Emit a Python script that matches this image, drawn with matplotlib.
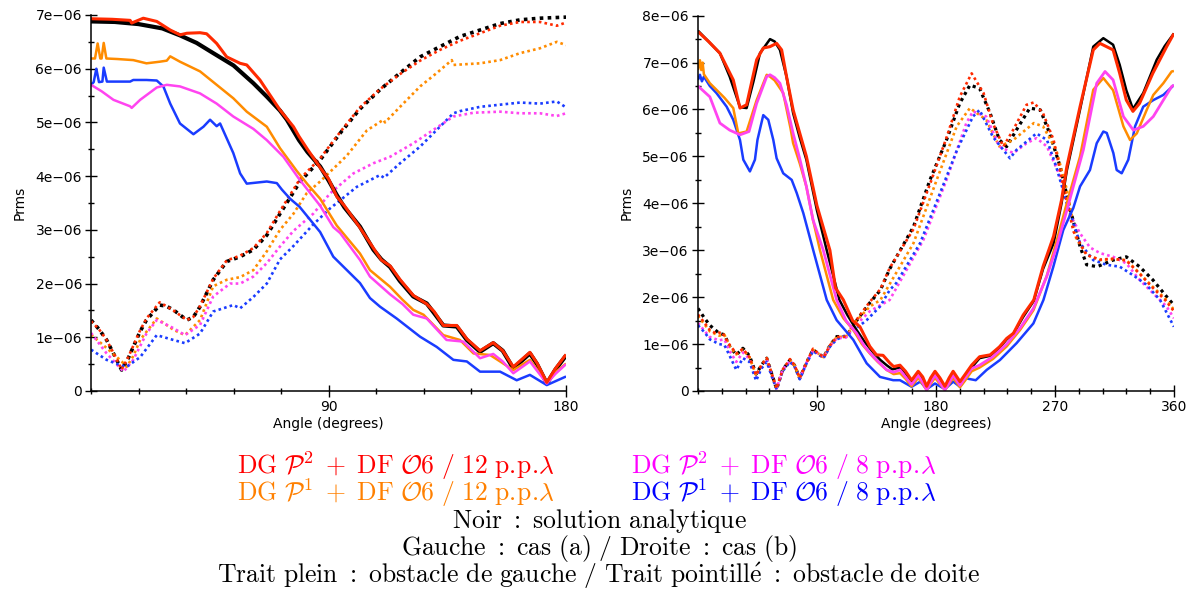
import matplotlib
matplotlib.use('Agg')
import numpy as np
import matplotlib.pyplot as plt
from matplotlib.ticker import FuncFormatter, MultipleLocator, FixedLocator

# ---- data (values in 1e-6) ----
# case (a), solid = left obstacle
a_black_ang = [0, 9, 18, 27, 33.7, 40, 46.3, 54, 61.5, 66.6, 71.6, 74.2, 78.8, 82, 86.8, 90, 93.1, 96, 101.9, 107, 110, 113.3, 117, 122.1, 127.2, 130, 133.5, 138.6, 142.4, 147.4, 152.4, 156, 160, 166.3, 169, 172.7, 176, 180]
a_black = [6.88, 6.87, 6.83, 6.75, 6.62, 6.48, 6.29, 6.06, 5.73, 5.48, 5.22, 5.05, 4.67, 4.45, 4.18, 3.92, 3.65, 3.42, 3.06, 2.63, 2.45, 2.31, 2.05, 1.76, 1.63, 1.45, 1.22, 1.20, 0.95, 0.73, 0.89, 0.75, 0.42, 0.70, 0.50, 0.14, 0.40, 0.66]
a_red_ang = [0, 8, 14.8, 15.4, 19.8, 24.9, 30, 33.7, 36.3, 41.3, 43.8, 47.6, 51.4, 56.5, 59, 64, 71.6, 76.7, 78.8, 82, 86.8, 90, 93.1, 96, 101.9, 107, 110, 113.3, 117, 122.1, 127.2, 130, 133.5, 138.6, 142.4, 147.4, 152.4, 156, 160, 166.3, 169, 172.7, 176, 180]
a_red = [6.93, 6.92, 6.90, 6.85, 6.94, 6.88, 6.72, 6.63, 6.66, 6.67, 6.65, 6.47, 6.22, 6.10, 6.07, 5.79, 5.23, 4.92, 4.74, 4.50, 4.16, 3.95, 3.62, 3.45, 3.04, 2.66, 2.44, 2.33, 2.08, 1.78, 1.62, 1.48, 1.22, 1.22, 0.97, 0.75, 0.90, 0.75, 0.45, 0.72, 0.52, 0.16, 0.42, 0.68]
a_orange_ang = [0, 1.5, 2.5, 3.5, 4, 4.8, 5.8, 10, 16, 21, 26, 28.7, 30, 33.7, 41.3, 47.6, 53.9, 59, 66.6, 71.6, 77.9, 82, 86.8, 93.1, 101.9, 105.7, 113.3, 118, 122.1, 126, 133.5, 139.8, 144.9, 151.2, 155, 160, 166.3, 172.7, 176, 180]
a_orange = [6.19, 6.19, 6.47, 6.19, 6.19, 6.48, 6.19, 6.18, 6.16, 6.10, 6.13, 6.15, 6.23, 6.13, 5.95, 5.70, 5.45, 5.20, 4.92, 4.52, 4.10, 3.85, 3.58, 3.08, 2.56, 2.25, 1.94, 1.70, 1.51, 1.42, 1.04, 0.95, 0.70, 0.67, 0.55, 0.39, 0.58, 0.16, 0.35, 0.51]
a_magenta_ang = [0, 4, 8.5, 14.8, 15.4, 18.6, 24.9, 28.7, 33.7, 41.3, 47.6, 53.9, 61.5, 66.6, 72.9, 78.8, 86.8, 91.8, 94.4, 101.9, 105.7, 113.3, 118, 122.1, 127.2, 134.7, 141, 147.4, 152.4, 156, 160, 166.3, 172.7, 176, 180]
a_magenta = [5.70, 5.58, 5.42, 5.30, 5.27, 5.42, 5.65, 5.70, 5.67, 5.54, 5.35, 5.11, 4.88, 4.67, 4.36, 3.95, 3.45, 3.05, 2.94, 2.44, 2.13, 1.80, 1.62, 1.42, 1.35, 0.95, 0.92, 0.61, 0.69, 0.55, 0.33, 0.55, 0.14, 0.32, 0.50]
a_blue_ang = [0, 1, 2, 3, 4.3, 4.8, 6, 7.2, 14.8, 16, 21, 24.9, 27.4, 30, 33.7, 38.8, 42.6, 45.1, 47.6, 48.9, 53.9, 56.5, 59, 66.6, 70.4, 72.3, 75.4, 79, 86.8, 91.8, 101.9, 105.7, 109.5, 115.8, 124.7, 131, 137.3, 142.4, 147.4, 155, 161.3, 166.3, 172.7, 180]
a_blue = [5.70, 5.75, 6.00, 5.75, 5.76, 6.02, 5.76, 5.76, 5.76, 5.79, 5.79, 5.78, 5.67, 5.35, 4.98, 4.78, 4.92, 5.05, 4.93, 4.98, 4.43, 4.05, 3.86, 3.90, 3.87, 3.75, 3.58, 3.43, 2.96, 2.50, 2.01, 1.73, 1.57, 1.35, 1.01, 0.82, 0.58, 0.55, 0.36, 0.36, 0.20, 0.30, 0.11, 0.27]

# case (a), dotted = right obstacle
a_black_d_ang = [0, 3, 5.9, 9, 11.6, 14, 16, 18.5, 21, 26, 28.5, 31.2, 36.3, 38.8, 41.3, 46.3, 51.4, 56.5, 61.5, 66.6, 71.6, 76.7, 79.2, 86.8, 94.4, 101.9, 109.5, 117.1, 124.7, 132.2, 139.8, 147.4, 155, 162.6, 170.1, 180]
a_black_d = [1.32, 1.15, 0.95, 0.65, 0.39, 0.60, 0.82, 1.10, 1.32, 1.60, 1.58, 1.51, 1.32, 1.38, 1.57, 2.07, 2.41, 2.50, 2.63, 2.90, 3.30, 3.70, 3.90, 4.30, 4.80, 5.25, 5.61, 5.92, 6.22, 6.41, 6.60, 6.72, 6.84, 6.91, 6.94, 6.96]
a_red_d_ang = [0, 3, 5.9, 9, 11.6, 14, 16, 18.5, 21, 26, 28.5, 31.2, 36.3, 38.8, 41.3, 46.3, 51.4, 56.5, 61.5, 66.6, 71.6, 76.7, 79.2, 86.8, 94.4, 101.9, 109.5, 117.1, 124.7, 132.2, 139.8, 147.4, 155, 162.6, 170.1, 176.5, 180]
a_red_d = [1.30, 1.15, 0.95, 0.66, 0.40, 0.62, 0.84, 1.12, 1.35, 1.65, 1.58, 1.50, 1.32, 1.38, 1.58, 2.09, 2.43, 2.52, 2.66, 2.94, 3.35, 3.75, 3.95, 4.33, 4.82, 5.28, 5.62, 5.90, 6.15, 6.35, 6.52, 6.66, 6.80, 6.87, 6.87, 6.80, 6.86]
a_orange_d_ang = [0, 5.9, 11.6, 13.5, 16, 18.6, 24.9, 28, 31.2, 35.6, 41.3, 46.3, 51.4, 56.5, 61.5, 66.6, 71.6, 76.7, 81.7, 86.8, 96.9, 104.5, 110.8, 111.4, 117.1, 124.7, 131, 136.7, 137.3, 147.4, 155, 162.6, 170.1, 176.5, 180]
a_orange_d = [1.05, 0.80, 0.55, 0.45, 0.65, 0.95, 1.35, 1.25, 1.14, 1.04, 1.32, 1.95, 2.07, 2.12, 2.25, 2.60, 3.00, 3.30, 3.68, 3.90, 4.38, 4.85, 5.05, 5.00, 5.29, 5.67, 5.92, 6.16, 6.07, 6.10, 6.16, 6.29, 6.38, 6.50, 6.44]
a_magenta_d_ang = [0, 5.9, 12.3, 16, 21, 24.9, 28, 31.2, 35.6, 41.3, 46.3, 52.7, 56.5, 61.5, 66.6, 71.6, 76.7, 84.2, 90.6, 99.4, 107, 113.3, 122.1, 129.7, 137.3, 144.9, 155, 162.6, 170.1, 176.5, 180]
a_magenta_d = [1.08, 0.70, 0.36, 0.58, 1.07, 1.32, 1.25, 1.17, 1.04, 1.23, 1.76, 2.00, 2.00, 2.13, 2.38, 2.69, 2.98, 3.30, 3.68, 4.05, 4.24, 4.36, 4.61, 4.86, 5.11, 5.18, 5.20, 5.17, 5.17, 5.12, 5.17]
a_blue_d_ang = [0, 5.9, 11, 13.5, 18.6, 24.9, 31.2, 35.6, 41.3, 46.3, 53.9, 56.5, 61.5, 66.6, 71.6, 76.7, 84.2, 90.6, 100.7, 109.5, 111, 117.1, 124.7, 132.2, 137.3, 139.8, 147.4, 155, 162.6, 170.1, 176.5, 180]
a_blue_d = [0.77, 0.58, 0.48, 0.45, 0.63, 1.04, 0.95, 0.89, 1.07, 1.48, 1.60, 1.54, 1.75, 2.00, 2.45, 2.70, 3.10, 3.40, 3.80, 4.02, 3.97, 4.24, 4.55, 4.92, 5.17, 5.21, 5.29, 5.33, 5.37, 5.35, 5.39, 5.28]

# case (b), solid = left obstacle
b_black_ang = [0, 8, 16.6, 24, 31.8, 36.8, 42, 46.9, 54.5, 58, 62, 67, 72, 77, 82, 90, 97.4, 107, 113, 120, 126, 132.6, 138, 142.7, 147, 152.8, 157, 161.6, 166.6, 170, 173, 176, 179.3, 183, 186.8, 190, 193, 198, 202, 207, 213, 221, 228, 233.5, 238.6, 246, 254, 261, 269, 275, 279, 289, 299, 306.6, 314, 319, 324, 329, 336.8, 347, 353, 360]
b_black = [7.68, 7.45, 7.20, 6.70, 6.05, 6.03, 6.60, 7.20, 7.50, 7.45, 7.27, 6.70, 5.92, 5.40, 4.93, 3.85, 3.00, 1.94, 1.62, 1.30, 1.05, 0.82, 0.66, 0.55, 0.46, 0.50, 0.38, 0.18, 0.38, 0.25, 0.04, 0.22, 0.38, 0.22, 0.04, 0.22, 0.38, 0.16, 0.30, 0.50, 0.70, 0.75, 0.92, 1.10, 1.22, 1.58, 1.92, 2.60, 3.15, 4.00, 4.70, 6.00, 7.34, 7.52, 7.38, 6.95, 6.41, 6.01, 6.35, 7.06, 7.35, 7.62]
b_red_ang = [0, 8, 16.6, 26.7, 31.8, 36.8, 44.4, 49.4, 54.5, 59.5, 63.3, 67, 72, 82, 90, 99.8, 104, 110, 117, 122.5, 130, 135, 140, 145, 148, 152.8, 157, 161.6, 166.6, 170, 173, 176, 179.3, 183, 186.8, 190, 193, 198.2, 202, 207, 213, 221, 228, 233.5, 238.6, 246, 254, 261, 269, 275, 279, 289, 299, 304, 309, 314, 319, 324, 329, 334, 344, 354.5, 360]
b_red = [7.66, 7.45, 7.20, 6.63, 6.03, 6.10, 7.06, 7.31, 7.34, 7.41, 7.27, 6.70, 5.99, 5.00, 3.95, 3.00, 2.20, 1.94, 1.50, 1.37, 0.95, 0.77, 0.76, 0.60, 0.52, 0.55, 0.42, 0.23, 0.42, 0.30, 0.10, 0.28, 0.42, 0.28, 0.10, 0.28, 0.42, 0.20, 0.35, 0.55, 0.73, 0.77, 0.94, 1.12, 1.23, 1.62, 1.94, 2.65, 3.30, 4.07, 4.78, 6.06, 7.27, 7.41, 7.34, 7.27, 6.77, 6.20, 5.96, 6.13, 6.77, 7.34, 7.62]
b_orange_ang = [0, 1.5, 2.5, 3.5, 4.5, 9, 14, 20, 26.7, 30.5, 36.8, 44.4, 52, 54.5, 58, 64.5, 70, 72, 77, 82, 87, 92.3, 102.3, 110, 117.5, 124, 130, 136, 142.7, 148, 152.8, 157, 161.6, 166.6, 170, 173, 176, 179.3, 183, 186.8, 190, 193, 198.2, 202, 207, 213, 223, 233.5, 243.6, 253.7, 263.8, 271.3, 278, 289, 299, 306.6, 314, 321.8, 326.8, 331.9, 339.4, 344.4, 352, 358.3, 360]
b_orange = [6.84, 7.05, 6.84, 7.00, 6.75, 6.56, 6.42, 6.25, 6.03, 5.49, 5.53, 6.20, 6.74, 6.70, 6.62, 6.35, 5.60, 5.28, 4.85, 4.36, 3.65, 3.00, 1.94, 1.55, 1.30, 1.00, 0.80, 0.62, 0.45, 0.36, 0.38, 0.26, 0.10, 0.28, 0.15, 0.02, 0.15, 0.28, 0.15, 0.02, 0.15, 0.28, 0.08, 0.22, 0.42, 0.50, 0.68, 0.95, 1.30, 1.72, 2.45, 3.20, 3.90, 5.00, 6.42, 6.67, 6.41, 5.64, 5.35, 5.49, 5.99, 6.31, 6.56, 6.81, 6.82]
b_magenta_ang = [0, 9, 16.6, 24, 31.8, 38.6, 44.4, 52, 54.5, 58, 62, 67, 72, 77, 82, 87, 94.8, 104.9, 112, 120, 126, 132.6, 142.7, 148, 152.8, 157, 161.6, 166.6, 170, 173, 176, 179.3, 183, 186.8, 190, 193, 198.2, 202, 207, 213, 223, 233.5, 243.6, 253.7, 263.8, 271, 279, 291.5, 301.6, 307.9, 314, 321.8, 329.3, 336.8, 344.4, 352, 358.3, 360]
b_magenta = [6.50, 6.27, 5.71, 5.56, 5.46, 5.53, 6.13, 6.70, 6.74, 6.68, 6.56, 6.10, 5.49, 4.95, 4.36, 3.65, 3.00, 1.94, 1.50, 1.23, 0.95, 0.73, 0.45, 0.40, 0.45, 0.30, 0.14, 0.34, 0.18, 0.02, 0.18, 0.34, 0.18, 0.02, 0.18, 0.34, 0.12, 0.28, 0.48, 0.55, 0.73, 1.00, 1.34, 1.76, 2.44, 3.05, 3.85, 5.14, 6.56, 6.81, 6.63, 5.85, 5.56, 5.64, 5.85, 6.20, 6.49, 6.52]
b_blue_ang = [0, 1.5, 3, 4.5, 9, 14, 21.7, 26.7, 31.8, 34.3, 39.3, 43.1, 45, 49.4, 53.2, 57, 59.5, 64.5, 70.9, 74.7, 79.7, 87.2, 97.4, 104.9, 117.5, 127.6, 137.7, 147.7, 152.8, 161.6, 168.2, 173, 179.3, 186.8, 193.1, 198.2, 202.6, 210.1, 218.4, 228.4, 241, 253.7, 261.3, 268.8, 276.3, 283.9, 289, 296.5, 301.6, 306.6, 309.2, 314.2, 316.7, 320.5, 325.5, 330.6, 336.8, 344.4, 352, 360]
b_blue = [6.63, 6.74, 6.60, 6.70, 6.50, 6.35, 6.06, 5.78, 5.35, 4.93, 4.68, 4.93, 5.35, 5.88, 5.78, 5.35, 4.96, 4.64, 4.50, 4.22, 3.79, 3.00, 1.94, 1.51, 1.09, 0.59, 0.30, 0.23, 0.23, 0.09, 0.20, 0.04, 0.16, 0.04, 0.20, 0.09, 0.27, 0.23, 0.45, 0.66, 1.02, 1.44, 1.94, 2.65, 3.43, 3.90, 4.36, 4.71, 5.28, 5.53, 5.50, 5.07, 4.71, 4.64, 4.93, 5.64, 6.06, 6.20, 6.31, 6.52]

# case (b), dotted = right obstacle
b_black_d_ang = [0, 5, 9, 16, 20, 24, 29, 34, 39, 44, 48, 52, 56, 59.5, 64, 69.6, 73, 77, 82, 87, 91, 95, 100, 105, 112, 120, 130, 138, 145, 163, 175.5, 188, 198, 205.7, 213, 221, 228, 233.5, 241, 251, 259, 266, 274, 281, 289, 294, 302, 314, 324, 334, 344, 354.5, 360]
b_black_d = [1.76, 1.55, 1.40, 1.23, 1.20, 0.95, 0.77, 0.91, 0.75, 0.36, 0.55, 0.70, 0.35, 0.04, 0.45, 0.66, 0.55, 0.27, 0.60, 0.88, 0.80, 0.72, 0.98, 1.16, 1.16, 1.50, 1.88, 2.15, 2.60, 3.50, 4.50, 5.35, 6.13, 6.52, 6.45, 5.92, 5.35, 5.21, 5.57, 6.03, 5.99, 5.49, 4.78, 3.93, 3.08, 2.69, 2.65, 2.79, 2.86, 2.65, 2.37, 2.01, 1.83]
b_red_d_ang = [0, 5, 9, 14, 18, 24, 29, 34, 39, 44, 48, 52, 56, 59.5, 64, 69.6, 73, 77, 82, 87, 91, 95, 100, 105, 112, 120, 130, 138, 145, 163, 176, 188, 198, 207, 216, 223, 231, 238.5, 248.5, 254, 261, 269, 276, 284, 294, 304, 314, 324, 334, 344, 354, 360]
b_red_d = [1.63, 1.45, 1.30, 1.22, 1.26, 0.98, 0.80, 0.90, 0.72, 0.34, 0.55, 0.70, 0.35, 0.05, 0.45, 0.68, 0.55, 0.28, 0.60, 0.90, 0.80, 0.72, 0.98, 1.15, 1.16, 1.52, 1.90, 2.17, 2.62, 3.45, 4.45, 5.40, 6.27, 6.77, 6.35, 5.71, 5.21, 5.57, 6.10, 6.15, 5.92, 5.35, 4.43, 3.40, 2.90, 2.80, 2.82, 2.78, 2.50, 2.20, 1.92, 1.70]
b_orange_d_ang = [0, 5, 9, 16, 20, 24, 29, 34, 39, 44, 48, 52, 56, 59.5, 64, 69.6, 73, 77, 82, 87, 91, 95, 100, 105, 112, 120, 130, 138, 163, 180.6, 195.7, 205.7, 218, 228, 238.5, 254, 261, 271, 279, 286, 294, 304, 314, 324, 334, 344, 354.5, 360]
b_orange_d = [1.60, 1.42, 1.27, 1.18, 1.20, 0.95, 0.78, 0.88, 0.72, 0.33, 0.55, 0.70, 0.35, 0.05, 0.45, 0.66, 0.55, 0.27, 0.60, 0.88, 0.80, 0.72, 0.98, 1.15, 1.16, 1.50, 1.80, 1.94, 3.15, 4.50, 5.64, 6.03, 5.78, 5.21, 5.35, 5.71, 5.64, 5.14, 4.29, 3.26, 2.90, 2.79, 2.81, 2.79, 2.51, 2.22, 1.94, 1.73]
b_magenta_d_ang = [0, 5, 9, 16, 20, 24, 29, 34, 39, 44, 48, 52, 56, 59.5, 64, 69.6, 73, 77, 82, 87, 91, 95, 100, 105, 112, 120, 130, 145, 170.5, 188, 203, 208, 218, 228, 238.6, 248.5, 256, 264, 274, 281, 289, 296.5, 304, 314, 324, 334, 344, 354.5, 360]
b_magenta_d = [1.45, 1.28, 1.15, 1.08, 1.10, 0.85, 0.62, 0.82, 0.68, 0.28, 0.52, 0.68, 0.33, 0.05, 0.45, 0.64, 0.55, 0.27, 0.60, 0.86, 0.80, 0.72, 0.96, 1.12, 1.14, 1.42, 1.70, 1.94, 3.22, 4.50, 5.71, 5.96, 5.85, 5.21, 5.07, 5.28, 5.39, 5.21, 4.57, 3.79, 3.36, 3.06, 2.94, 2.86, 2.72, 2.37, 2.09, 1.80, 1.55]
b_blue_d_ang = [0, 5, 9, 16, 20, 24, 29, 34, 39, 44, 48, 52, 56, 59.5, 64, 69.6, 73, 77, 82, 87, 91, 95, 100, 105, 115, 127.6, 137.7, 145, 150, 168, 183, 196, 208, 213, 223, 236, 241, 256, 264, 271, 279, 289, 299, 309, 319, 329, 339, 349.5, 360]
b_blue_d = [1.40, 1.25, 1.10, 1.00, 0.98, 0.75, 0.45, 0.70, 0.62, 0.22, 0.48, 0.62, 0.30, 0.03, 0.42, 0.62, 0.52, 0.25, 0.58, 0.85, 0.78, 0.70, 0.95, 1.10, 1.23, 1.51, 1.80, 2.15, 2.30, 3.15, 4.21, 5.14, 5.85, 5.99, 5.42, 4.96, 5.14, 5.49, 5.35, 4.78, 4.00, 3.15, 2.79, 2.69, 2.65, 2.47, 2.27, 1.94, 1.37]

c_black = 'black'
c_red = '#ff2a00'
c_orange = '#ff8c00'
c_magenta = '#ff44f0'
c_blue = '#1a3cff'


def fmt(v, pos):
    if abs(v) < 1e-12:
        return '0'
    return ('%.0e' % v).replace('-', '\u2212')


def style_axes(ax, xmax, ymax, xmajor):
    ax.set_xlim(0, xmax)
    ax.set_ylim(0, ymax * 1e-6)
    ax.spines['top'].set_visible(False)
    ax.spines['right'].set_visible(False)
    ax.spines['left'].set_linewidth(1.1)
    ax.spines['bottom'].set_linewidth(1.1)
    ax.xaxis.set_major_locator(FixedLocator(xmajor))
    ax.xaxis.set_minor_locator(MultipleLocator(18))
    ax.yaxis.set_major_locator(MultipleLocator(1e-6))
    ax.yaxis.set_minor_locator(MultipleLocator(0.5e-6))
    ax.yaxis.set_major_formatter(FuncFormatter(fmt))
    ax.tick_params(which='major', direction='inout', length=9, width=1, labelsize=10, pad=2)
    ax.tick_params(which='minor', direction='inout', length=5, width=1)
    ax.set_xlabel('Angle (degrees)', fontsize=10, labelpad=2)
    ax.set_ylabel('Prms', fontsize=10, labelpad=6)


def draw(ax, series, solid):
    for ang, val, col, lw in series:
        y = np.array(val) * 1e-6
        if solid:
            ax.plot(ang, y, color=col, lw=lw, solid_capstyle='butt')
        else:
            ax.plot(ang, y, color=col, lw=lw, linestyle=(0, (1, 1.2)), dash_capstyle='butt')


plt.rcParams['mathtext.fontset'] = 'cm'

fig = plt.figure(figsize=(11.98, 6.14), dpi=100)
ax1 = fig.add_axes([0.0760, 0.3632, 0.3965, 0.6124])
ax2 = fig.add_axes([0.5826, 0.3632, 0.3973, 0.6113])

# left chart: case (a)
draw(ax1, [(a_black_d_ang, a_black_d, c_black, 2.6),
           (a_orange_d_ang, a_orange_d, c_orange, 1.9),
           (a_magenta_d_ang, a_magenta_d, c_magenta, 1.9),
           (a_blue_d_ang, a_blue_d, c_blue, 1.9),
           (a_red_d_ang, a_red_d, c_red, 1.9)], solid=False)
draw(ax1, [(a_black_ang, a_black, c_black, 3.0),
           (a_blue_ang, a_blue, c_blue, 1.8),
           (a_orange_ang, a_orange, c_orange, 1.8),
           (a_magenta_ang, a_magenta, c_magenta, 1.8),
           (a_red_ang, a_red, c_red, 2.2)], solid=True)
style_axes(ax1, 180, 7, [90, 180])

# right chart: case (b)
draw(ax2, [(b_black_d_ang, b_black_d, c_black, 2.3),
           (b_orange_d_ang, b_orange_d, c_orange, 1.9),
           (b_magenta_d_ang, b_magenta_d, c_magenta, 1.9),
           (b_blue_d_ang, b_blue_d, c_blue, 1.9),
           (b_red_d_ang, b_red_d, c_red, 1.9)], solid=False)
draw(ax2, [(b_black_ang, b_black, c_black, 1.8),
           (b_blue_ang, b_blue, c_blue, 1.8),
           (b_orange_ang, b_orange, c_orange, 1.8),
           (b_magenta_ang, b_magenta, c_magenta, 2.0),
           (b_red_ang, b_red, c_red, 2.2)], solid=True)
style_axes(ax2, 360, 8, [90, 180, 270, 360])

# caption
fs = 18.5
lab = r'$\mathrm{DG}\ \mathcal{P}^%d\ \,{+}\ \,\mathrm{DF}\ \mathcal{O}6\ /\ %d\ \mathrm{p.\!p.\!}\lambda$'
fig.text(0.198, 0.2280, lab % (2, 12), color='#ff0000', fontsize=fs, ha='left', va='baseline')
fig.text(0.198, 0.1840, lab % (1, 12), color='#ff8000', fontsize=fs, ha='left', va='baseline')
fig.text(0.527, 0.2280, lab % (2, 8), color='#ff00ff', fontsize=fs, ha='left', va='baseline')
fig.text(0.527, 0.1840, lab % (1, 8), color='#0000ff', fontsize=fs, ha='left', va='baseline')
fig.text(0.5, 0.1401, r'$\mathrm{Noir\ {:}\ solution\ analytique}$',
         fontsize=fs, ha='center', va='baseline')
fig.text(0.5, 0.0961, r'$\mathrm{Gauche\ {:}\ cas\ (a)\ /\ Droite\ {:}\ cas\ (b)}$',
         fontsize=fs, ha='center', va='baseline')
fig.text(0.5, 0.0505, r'$\mathrm{Trait\ plein\ {:}\ obstacle\ de\ gauche\ /\ Trait\ pointill\acute{e}\ {:}\ obstacle\ de\ doite}$',
         fontsize=fs, ha='center', va='baseline')

fig.savefig('out.png', dpi=100)
